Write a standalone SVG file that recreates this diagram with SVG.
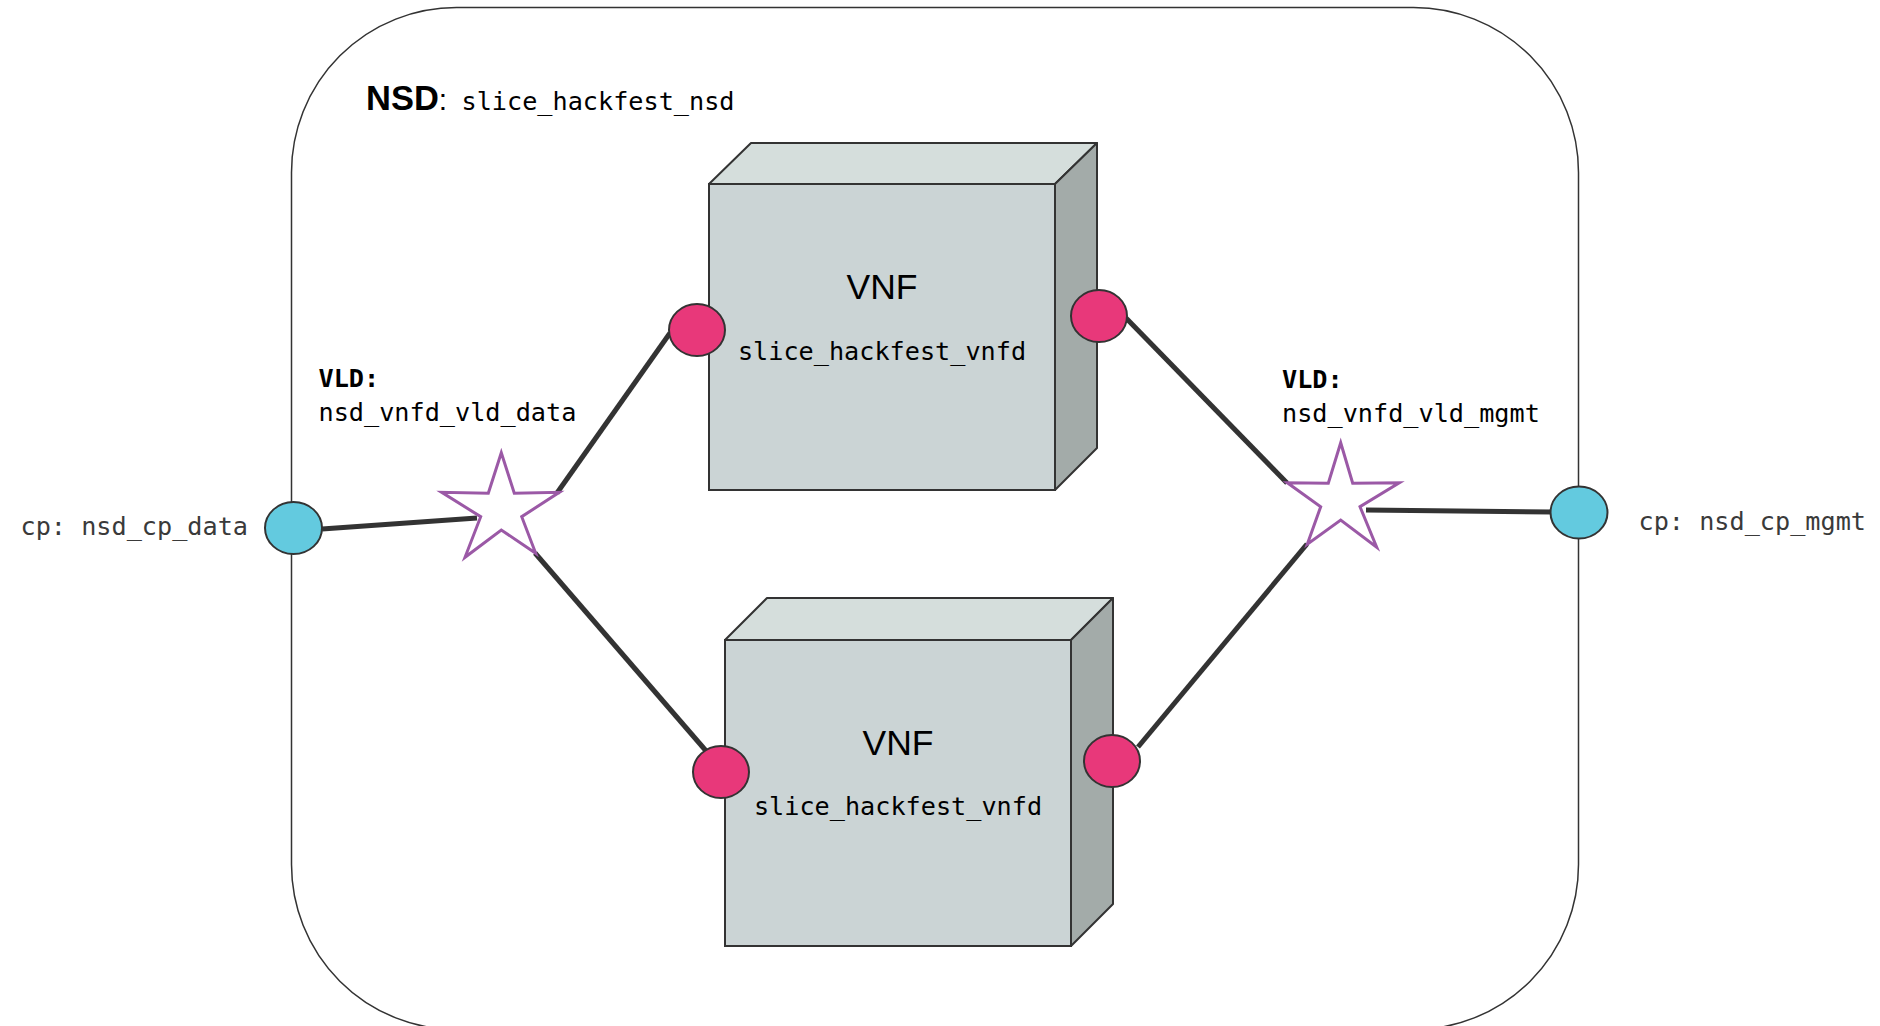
<svg xmlns="http://www.w3.org/2000/svg" width="1880" height="1026" viewBox="0 0 1880 1026">
<style>
.mono{font-family:"DejaVu Sans Mono","Liberation Mono",monospace;font-size:25.2px;fill:#000}
.cp{fill:#3a3a3a}
.bold{font-weight:bold}
.sans{font-family:"Liberation Sans",Arial,sans-serif}
.front{fill:#CBD4D5;stroke:#333;stroke-width:2}
.top{fill:#D5DEDC;stroke:#333;stroke-width:2;stroke-linejoin:round}
.side{fill:#A3ABA9;stroke:#333;stroke-width:2;stroke-linejoin:round}
.cpv{fill:#E8387A;stroke:#333;stroke-width:2}
.cpn{fill:#63CADF;stroke:#333;stroke-width:2}
.vld{fill:#fff;stroke:#9B59A6;stroke-width:3}
.link{stroke:#333;stroke-width:5;fill:none}
</style>
<rect width="1880" height="1026" fill="#fff"/>
<g id="nsd">
<rect x="291.5" y="7.5" width="1287" height="1022" rx="165" ry="165" fill="none" stroke="#333" stroke-width="1.5"/>
<text x="366" y="110" class="sans bold" font-size="34.5">NSD<tspan class="sans" font-weight="normal" font-size="30">:</tspan></text>
<text x="461.5" y="110" class="mono">slice_hackfest_nsd</text>
</g>
<g id="connectors">
<line class="link" x1="322" y1="529" x2="477" y2="518"/>
<line class="link" x1="557" y1="493" x2="670" y2="333"/>
<line class="link" x1="535" y1="553" x2="707" y2="752"/>
<line class="link" x1="1126" y1="318" x2="1287" y2="483"/>
<line class="link" x1="1307" y1="544" x2="1138" y2="747"/>
<line class="link" x1="1366" y1="510" x2="1552" y2="512"/>
</g>
<g id="vnf1">
<polygon class="top" points="709,184 751,143 1097,143 1055,184"/>
<polygon class="side" points="1055,184 1097,143 1097,448 1055,490"/>
<rect class="front" x="709" y="184" width="346" height="306"/>
<text x="882" y="299" class="sans" font-size="35.5" text-anchor="middle">VNF</text>
<text x="882" y="360" class="mono" text-anchor="middle">slice_hackfest_vnfd</text>
<ellipse class="cpv" cx="697" cy="330" rx="28" ry="26"/>
<ellipse class="cpv" cx="1099" cy="316" rx="28" ry="26"/>
</g>
<g id="vnf2">
<polygon class="top" points="725,640 767,598 1113,598 1071,640"/>
<polygon class="side" points="1071,640 1113,598 1113,904 1071,946"/>
<rect class="front" x="725" y="640" width="346" height="306"/>
<text x="898" y="755" class="sans" font-size="35.5" text-anchor="middle">VNF</text>
<text x="898" y="815" class="mono" text-anchor="middle">slice_hackfest_vnfd</text>
<ellipse class="cpv" cx="721" cy="772" rx="28" ry="26"/>
<ellipse class="cpv" cx="1112" cy="761" rx="28" ry="26"/>
</g>
<g id="vld-data">
<polygon class="vld" points="501.3,452.7 514.3,493.3 559.3,492.3 521.7,516.7 535.7,553.3 501.3,530 465,557.3 480.7,516.7 441.7,492.3 488.3,493.3"/>
<text x="318.5" y="387" class="mono bold">VLD:</text>
<text x="318.5" y="421" class="mono">nsd_vnfd_vld_data</text>
</g>
<g id="vld-mgmt">
<polygon class="vld" points="1340.7,442.7 1352.7,483.3 1399.3,482.7 1360,506.7 1376.7,547.3 1340.7,520 1307.3,544.3 1320.7,506.7 1287.3,482.7 1328.3,483.3"/>
<text x="1282" y="388" class="mono bold">VLD:</text>
<text x="1282" y="422" class="mono">nsd_vnfd_vld_mgmt</text>
</g>
<g id="cp-data">
<ellipse class="cpn" cx="293.5" cy="528" rx="28.5" ry="26"/>
<text x="20.5" y="535" class="mono cp">cp: nsd_cp_data</text>
</g>
<g id="cp-mgmt">
<ellipse class="cpn" cx="1579" cy="512.5" rx="28.5" ry="26"/>
<text x="1638.5" y="530" class="mono cp">cp: nsd_cp_mgmt</text>
</g>
</svg>
